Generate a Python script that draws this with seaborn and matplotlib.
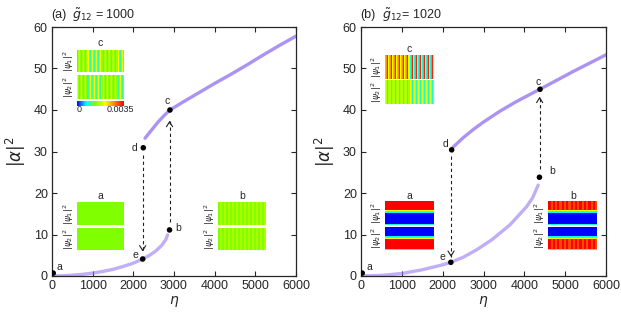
import numpy as np
import pandas as pd
import seaborn as sns
import matplotlib.pyplot as plt
from matplotlib.colors import LinearSegmentedColormap, Normalize
import matplotlib as mpl

# ---- branch data ----
# panel (a), g12 = 1000
lower_a_eta = [0, 250, 500, 750, 1000, 1250, 1500, 1750, 2000, 2230, 2400, 2550, 2700, 2800, 2840]
lower_a_val = [0, 0.05, 0.2, 0.4, 0.7, 1.1, 1.6, 2.3, 3.1, 4.1, 5.0, 6.0, 7.4, 8.8, 9.9]
upper_a_eta = [2287, 2450, 2600, 2750, 2900, 3200, 3600, 4000, 4400, 4800, 5200, 5600, 6000]
upper_a_val = [33.2, 35.2, 37.0, 38.6, 40.0, 41.8, 44.1, 46.4, 48.6, 50.9, 53.3, 55.6, 57.8]

# panel (b), g12 = 1020
lower_b_eta = [0, 500, 1000, 1500, 2000, 2196, 2500, 2830, 3200, 3645, 4055, 4200, 4340]
lower_b_val = [0, 0.15, 0.6, 1.5, 2.7, 3.3, 4.5, 6.3, 8.7, 12.3, 16.7, 18.8, 21.9]
upper_b_eta = [2250, 2500, 2750, 3000, 3400, 3800, 4380, 4800, 5200, 5600, 6000]
upper_b_val = [31.0, 33.3, 35.3, 37.1, 39.7, 42.0, 45.0, 47.2, 49.3, 51.3, 53.3]

# marked states a..e
pt_names = ['a', 'b', 'c', 'd', 'e']
pts_a_eta = [30, 2890, 2900, 2245, 2230]
pts_a_val = [0.7, 11.1, 40.0, 30.9, 4.1]
pts_b_eta = [30, 4370, 4385, 2220, 2200]
pts_b_val = [0.7, 23.8, 45.0, 30.4, 3.3]
lbl_a_pos = [(190, 2.1), (3100, 11.6), (2840, 42.2), (2040, 30.9), (2040, 5.1)]
lbl_b_pos = [(210, 2.2), (4670, 25.4), (4340, 46.8), (2075, 31.7), (1985, 4.6)]

# jumps (x, start, arrow tip)
jumps_a = [(2230, 29.2, 5.9), (2890, 13.0, 37.4)]
jumps_b = [(2205, 29.0, 4.6), (4375, 25.8, 43.2)]

# ---- density snapshots (normalised to colour scale) ----
c_a_top = [0.25, 0.45, 0.62, 0.42] * 11
c_a_bot = [0.60, 0.42, 0.28, 0.45] * 11
b_a_cols = [0.40, 0.47] * 12
flat_a = [[0.40]]
c_b_top = [0.22, 0.78, 0.95, 0.58] * 12
c_b_bot = [0.62, 0.48, 0.22, 0.45] * 12
rows_psi1 = [1.0] * 9 + [0.6, 0.4, 0.2] + [0.0] * 11 + [0.25]
rows_psi2 = [0.0] * 10 + [0.2, 0.4, 0.6] + [1.0] * 10 + [0.35]
mod_cols = [1.0, 0.88] * 11

cmap = LinearSegmentedColormap.from_list(
    'dens', ['#0000ff', '#00ffff', '#80ff00', '#ffff00', '#ff8000', '#ff0000'])

W, H = 621, 313


def box(l, t, r, b):
    return [l / W, 1 - b / H, (r - l) / W, (b - t) / H]


sns.set_style('ticks')
plt.rcParams['font.family'] = ['Liberation Sans', 'DejaVu Sans']
plt.rcParams['axes.linewidth'] = 0.9

fig = plt.figure(figsize=(6.21, 3.13), dpi=100)

curve_col = '#9678f2'


def main_panel(rect, lo_x, lo_y, up_x, up_y, px, py, lpos, jumps):
    ax = fig.add_axes(rect)
    sns.lineplot(x=lo_x, y=lo_y, ax=ax, color=curve_col, lw=2.4, alpha=0.6)
    sns.lineplot(x=up_x, y=up_y, ax=ax, color=curve_col, lw=2.4, alpha=0.8)
    for x, y0, y1 in jumps:
        ax.plot([x, x], [y0, y1], ls=(0, (3, 2.5)), color='#222222', lw=0.8)
        ax.annotate('', xy=(x, y1), xytext=(x, y1 + (1.2 if y1 < y0 else -1.2)),
                    arrowprops=dict(arrowstyle='->,head_length=0.35,head_width=0.22',
                                    color='#222222', lw=0.8))
    sns.scatterplot(x=px, y=py, ax=ax, color='black', s=16, edgecolor='none', zorder=5)
    for n, (tx, ty) in zip(pt_names, lpos):
        ax.text(tx, ty, n, fontsize=7.5, ha='center', va='center')
    ax.set_xlim(0, 6000)
    ax.set_ylim(0, 60)
    ax.set_xticks(range(0, 6001, 1000))
    ax.set_yticks(range(0, 61, 10))
    ax.tick_params(direction='in', top=True, right=True, length=3.5, width=0.8,
                   labelsize=9, pad=3)
    ax.set_xlabel(r'$\eta$', fontsize=10, labelpad=1)
    ax.set_ylabel(r'$|\alpha|^2$', fontsize=12, labelpad=4)
    return ax


ax1 = main_panel(box(52, 27, 296, 276), lower_a_eta, lower_a_val, upper_a_eta, upper_a_val,
                 pts_a_eta, pts_a_val, lbl_a_pos, jumps_a)
ax2 = main_panel(box(361, 27, 606, 276), lower_b_eta, lower_b_val, upper_b_eta, upper_b_val,
                 pts_b_eta, pts_b_val, lbl_b_pos, jumps_b)


def snap(l, t, r, b, data):
    iax = fig.add_axes(box(l, t, r, b))
    sns.heatmap(pd.DataFrame(data), ax=iax, cmap=cmap, vmin=0, vmax=1, cbar=False,
                xticklabels=False, yticklabels=False)
    iax.tick_params(length=0)
    return iax


def psi_labels(x, t1, b1, t2, b2):
    fig.text(x / W, 1 - (t1 + b1) / 2 / H, r'$|\psi_1|^2$', rotation=90, fontsize=6.5,
             ha='center', va='center')
    fig.text(x / W, 1 - (t2 + b2) / 2 / H, r'$|\psi_2|^2$', rotation=90, fontsize=6.5,
             ha='center', va='center')


def label(x, y, s):
    fig.text(x / W, 1 - y / H, s, fontsize=7.5, ha='center', va='center')


# panel (a) snapshots
snap(76.7, 50, 124, 71.7, [c_a_top])
snap(76.7, 75, 124, 99.3, [c_a_bot])
psi_labels(69, 50, 71.7, 75, 99.3)
label(100.5, 42.5, 'c')
cax = fig.add_axes(box(76.7, 100.5, 124, 105.5))
cb = fig.colorbar(mpl.cm.ScalarMappable(norm=Normalize(0, 0.0035), cmap=cmap),
                  cax=cax, orientation='horizontal')
cb.set_ticks([])
cb.outline.set_visible(False)
fig.text(79 / W, 1 - 110 / H, '0', fontsize=6.5, ha='center', va='center')
fig.text(120 / W, 1 - 110 / H, '0.0035', fontsize=6.5, ha='center', va='center')

snap(76.7, 202.3, 124, 225, flat_a)
snap(76.7, 227.7, 124, 250, flat_a)
psi_labels(69, 202.3, 225, 227.7, 250)
label(100.5, 195.7, 'a')

snap(218.3, 202.3, 266, 225, [b_a_cols])
snap(218.3, 227.7, 266, 250, [b_a_cols])
psi_labels(210, 202.3, 225, 227.7, 250)
label(242, 195.7, 'b')

# panel (b) snapshots
snap(385, 55, 434, 79, [c_b_top])
snap(385, 80.3, 434, 104.3, [c_b_bot])
psi_labels(377, 55, 79, 80.3, 104.3)
label(409.3, 49, 'c')

snap(385, 201, 434, 225, [[v] for v in rows_psi1])
snap(385, 226.7, 434, 250, [[v] for v in rows_psi2])
psi_labels(377, 201, 225, 226.7, 250)
label(409, 195.7, 'a')

r1 = np.array(rows_psi1)
r2 = np.array(rows_psi2)
m = np.array(mod_cols)
img1 = np.where(r1[:, None] > 0.3, r1[:, None] * m[None, :], r1[:, None] + 0 * m[None, :])
img2 = np.where(r2[:, None] > 0.3, r2[:, None] * m[None, :], r2[:, None] + 0 * m[None, :])
snap(548.3, 201, 597.3, 225, img1)
snap(548.3, 226.7, 597.3, 250, img2)
psi_labels(540, 201, 225, 226.7, 250)
label(573.3, 195.7, 'b')

# titles
fig.text(51.7 / W, 1 - 15 / H, '(a)', fontsize=9, ha='left', va='center')
fig.text(72 / W, 1 - 15 / H, r'$\tilde{g}_{12}$ = 1000', fontsize=9, ha='left', va='center')
fig.text(360 / W, 1 - 15 / H, '(b)', fontsize=9, ha='left', va='center')
fig.text(382 / W, 1 - 15 / H, r'$\tilde{g}_{12}$= 1020', fontsize=9, ha='left', va='center')

fig.savefig('out.png', dpi=100)
